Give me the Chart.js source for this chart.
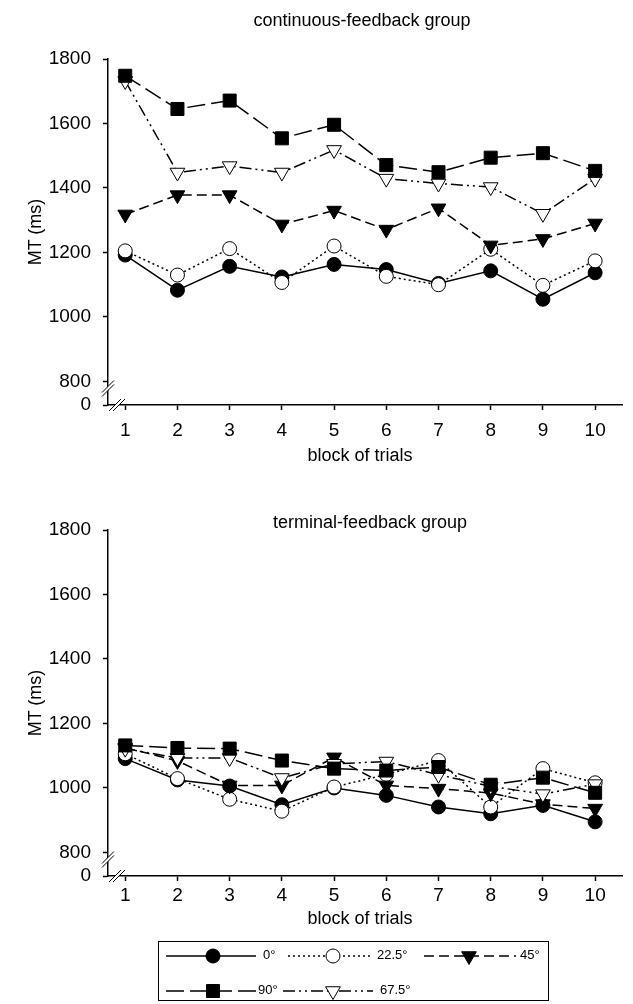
<!DOCTYPE html>
<html><head><meta charset="utf-8">
<script src="https://cdn.jsdelivr.net/npm/chart.js@4.4.1/dist/chart.umd.min.js"></script>
<style>
html,body{margin:0;padding:0;background:#fff;}
body{width:633px;height:1004px;position:relative;overflow:hidden;font-family:"Liberation Sans",Arial,Helvetica,sans-serif;color:#000;}
.cw{position:absolute;left:0;width:633px;height:470px;}
.t{position:absolute;font-size:18px;line-height:20px;white-space:nowrap;transform:translateX(-50%);}
.yt{position:absolute;font-size:18px;line-height:20px;white-space:nowrap;transform:translate(-50%,-50%) rotate(-90deg);}
#legend{position:absolute;left:158px;top:941px;width:391px;height:60px;border:1px solid #000;box-sizing:border-box;}
#legend canvas{position:absolute;left:0;top:0;}
.lt{position:absolute;font-size:13px;line-height:14px;white-space:nowrap;}
</style>
</head><body>
<div class="cw" style="top:0"><canvas id="c1" width="633" height="470"></canvas></div>
<div class="cw" style="top:471px"><canvas id="c2" width="633" height="470"></canvas></div>
<div class="t" style="left:362px;top:10px">continuous-feedback group</div>
<div class="t" style="left:370px;top:512px">terminal-feedback group</div>
<div class="t" style="left:360px;top:445px">block of trials</div>
<div class="t" style="left:360px;top:908px">block of trials</div>
<div class="yt" style="left:35px;top:232px">MT (ms)</div>
<div class="yt" style="left:35px;top:703px">MT (ms)</div>
<div id="legend"><canvas id="lg" width="391" height="60"></canvas></div>
<script>
// ---- data ----
const blocks = [1, 2, 3, 4, 5, 6, 7, 8, 9, 10];
const yTickValues = [800, 1000, 1200, 1400, 1600, 1800];
const seriesNames = ['0°', '22.5°', '45°', '90°', '67.5°'];

// continuous-feedback group
const cont0   = [1192, 1083, 1157, 1124, 1163, 1147, 1104, 1143, 1055, 1137];
const cont225 = [1205, 1130, 1212, 1107, 1220, 1126, 1100, 1210, 1098, 1174];
const cont45  = [1318, 1378, 1378, 1287, 1330, 1271, 1337, 1222, 1242, 1290];
const cont90  = [1748, 1645, 1671, 1554, 1596, 1471, 1449, 1494, 1508, 1453];
const cont675 = [1732, 1448, 1468, 1448, 1518, 1429, 1414, 1403, 1320, 1429];

// terminal-feedback group
const term0   = [1091, 1025, 1006, 948, 1000, 977, 941, 920, 946, 895];
const term225 = [1106, 1029, 965, 928, 1003, 1042, 1085, 941, 1060, 1016];
const term45  = [1125, 1084, 1008, 1008, 1095, 1008, 998, 984, 950, 936];
const term90  = [1132, 1124, 1122, 1085, 1060, 1054, 1065, 1010, 1032, 985];
const term675 = [1122, 1093, 1093, 1031, 1075, 1082, 1041, 1005, 981, 1012];

// ---- styles ----
const BREAK = 727; // value position representing "0" below the axis break
const FONT = '"Liberation Sans", Arial, Helvetica, sans-serif';
const styles = [
  {shape: 'circle',   r: 7,   fill: '#000', dash: [],                 order: 4},
  {shape: 'circle',   r: 7,   fill: '#fff', dash: [2, 3],             order: 3},
  {shape: 'triangle', r: 8.5, fill: '#000', dash: [10, 5],            order: 2},
  {shape: 'rect',     r: 9.2, fill: '#000', dash: [18, 6],            order: 0},
  {shape: 'triangle', r: 8.5, fill: '#fff', dash: [12, 4, 2, 4, 2, 4], order: 1}
];

function datasetsFor(arrs) {
  return arrs.map((vals, i) => {
    const s = styles[i];
    return {
      label: seriesNames[i],
      data: blocks.map((b, j) => ({x: b, y: vals[j]})),
      borderColor: '#000',
      borderWidth: 1.5,
      borderDash: s.dash,
      pointStyle: s.shape,
      pointRadius: s.r,
      pointRotation: s.shape === 'triangle' ? 180 : 0,
      pointBackgroundColor: s.fill,
      pointBorderColor: '#000',
      pointBorderWidth: 1,
      tension: 0,
      fill: false,
      order: s.order
    };
  });
}

const breakPlugin = {
  id: 'breaks',
  afterDraw(chart) {
    const ctx = chart.ctx;
    const ys = chart.scales.y;
    const ax = chart.chartArea.left;
    const by = chart.chartArea.bottom;
    const yb = ys.getPixelForValue(800) + 7;
    const xb = ax + 9;
    ctx.save();
    // y-axis break
    ctx.fillStyle = '#fff';
    ctx.beginPath();
    ctx.moveTo(ax - 6, yb + 4); ctx.lineTo(ax + 6, yb - 8);
    ctx.lineTo(ax + 6, yb - 4); ctx.lineTo(ax - 6, yb + 8);
    ctx.closePath(); ctx.fill();
    ctx.strokeStyle = '#000'; ctx.lineWidth = 1;
    ctx.beginPath();
    ctx.moveTo(ax - 6, yb + 4); ctx.lineTo(ax + 6, yb - 8);
    ctx.moveTo(ax - 6, yb + 8); ctx.lineTo(ax + 6, yb - 4);
    ctx.stroke();
    // x-axis break
    ctx.fillStyle = '#fff';
    ctx.beginPath();
    ctx.moveTo(xb - 8, by + 6); ctx.lineTo(xb + 4, by - 6);
    ctx.lineTo(xb + 8, by - 6); ctx.lineTo(xb - 4, by + 6);
    ctx.closePath(); ctx.fill();
    ctx.beginPath();
    ctx.moveTo(xb - 8, by + 6); ctx.lineTo(xb + 4, by - 6);
    ctx.moveTo(xb - 4, by + 6); ctx.lineTo(xb + 8, by - 6);
    ctx.stroke();
    ctx.restore();
  }
};

function makeChart(id, arrs, xPad) {
  return new Chart(document.getElementById(id), {
    type: 'line',
    data: {datasets: datasetsFor(arrs)},
    plugins: [breakPlugin],
    options: {
      responsive: false,
      animation: false,
      devicePixelRatio: 1,
      layout: {padding: {top: 59, right: 3, left: 0, bottom: 0}},
      plugins: {legend: {display: false}, tooltip: {enabled: false}, title: {display: false}},
      scales: {
        x: {
          type: 'linear', min: 0.67, max: 10.53,
          afterFit: s => { s.height = 65; },
          afterBuildTicks: s => { s.ticks = blocks.map(v => ({value: v})); },
          ticks: {autoSkip: false, maxRotation: 0, padding: xPad, color: '#000', font: {family: FONT, size: 19}},
          grid: {drawOnChartArea: false, drawTicks: true, tickLength: 5, tickWidth: 1.5, tickColor: '#000'},
          border: {display: true, color: '#000', width: 1.5}
        },
        y: {
          type: 'linear', min: BREAK, max: 1800,
          afterFit: s => { s.width = 108; },
          afterBuildTicks: s => { s.ticks = [BREAK].concat(yTickValues).map(v => ({value: v})); },
          ticks: {autoSkip: false, padding: 12, color: '#000', font: {family: FONT, size: 19},
                  callback: v => (v < 800 ? '0' : String(v))},
          grid: {drawOnChartArea: false, drawTicks: true, tickLength: 5, tickWidth: 1.5, tickColor: '#000'},
          border: {display: true, color: '#000', width: 1.5}
        }
      }
    }
  });
}

makeChart('c1', [cont0, cont225, cont45, cont90, cont675], 9);
makeChart('c2', [term0, term225, term45, term90, term675], 3);

// ---- legend ----
(function () {
  const lg = document.getElementById('legend');
  const ctx = document.getElementById('lg').getContext('2d');
  const L = 158, T = 941;
  const items = [
    {i: 0, x1: 165, x2: 255, mx: 212, y: 955, tx: 263},
    {i: 1, x1: 287, x2: 370, mx: 332, y: 955, tx: 377},
    {i: 2, x1: 423, x2: 515, mx: 468, y: 955, tx: 520},
    {i: 3, x1: 165, x2: 255, mx: 212, y: 990, tx: 258},
    {i: 4, x1: 282, x2: 372, mx: 332, y: 990, tx: 380}
  ];
  items.forEach(it => {
    const s = styles[it.i];
    const y = it.y - T;
    ctx.save();
    ctx.strokeStyle = '#000'; ctx.lineWidth = 1.5; ctx.setLineDash(s.dash);
    ctx.beginPath(); ctx.moveTo(it.x1 - L, y); ctx.lineTo(it.x2 - L, y); ctx.stroke();
    ctx.setLineDash([]);
    const cx = it.mx - L;
    ctx.fillStyle = s.fill; ctx.lineWidth = 1;
    ctx.beginPath();
    if (s.shape === 'circle') {
      ctx.arc(cx, y, s.r, 0, Math.PI * 2);
    } else if (s.shape === 'rect') {
      const h = s.r * Math.SQRT1_2;
      ctx.rect(cx - h, y - h, 2 * h, 2 * h);
    } else {
      const r = s.r;
      ctx.moveTo(cx, y + r);
      ctx.lineTo(cx - r * Math.sin(Math.PI / 3), y - r / 2);
      ctx.lineTo(cx + r * Math.sin(Math.PI / 3), y - r / 2);
      ctx.closePath();
    }
    ctx.fill(); ctx.stroke();
    ctx.restore();
    const sp = document.createElement('span');
    sp.className = 'lt';
    sp.textContent = seriesNames[it.i];
    sp.style.left = (it.tx - L - 1) + 'px';
    sp.style.top = (it.y - T - 8) + 'px';
    lg.appendChild(sp);
  });
})();
</script>
</body></html>
